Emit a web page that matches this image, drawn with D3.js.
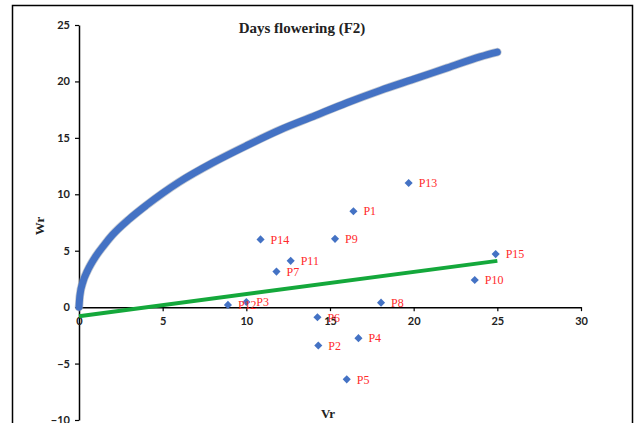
<!DOCTYPE html>
<html>
<head>
<meta charset="utf-8">
<script src="https://cdn.jsdelivr.net/npm/d3@7"></script>
<style>
  body { margin: 0; background: #fff; }
  svg { display: block; }
</style>
</head>
<body>
<div id="chart"></div>
<script>
// parents: Vr / Wr values
const names = ['P1', 'P2', 'P3', 'P4', 'P5', 'P6', 'P7', 'P8', 'P9', 'P10', 'P11', 'P12', 'P13', 'P14', 'P15'];
const vr = [16.4, 14.3, 10.0, 16.7, 16.0, 14.25, 11.8, 18.05, 15.3, 23.65, 12.65, 8.9, 19.7, 10.85, 24.9];
const wr = [8.5, -3.4, 0.45, -2.75, -6.4, -0.9, 3.15, 0.4, 6.05, 2.4, 4.1, 0.2, 11.0, 6.0, 4.7];

// limiting parabola
const curveVr = [0, 0.05, 0.25, 0.5, 1, 1.5, 2, 3, 4, 5, 6, 8, 10, 12, 14, 16, 18, 20, 22, 24, 25];
const curveWr = [0, 1.0, 2.3, 3.2, 4.5, 5.5, 6.4, 7.8, 9.0, 10.1, 11.1, 12.8, 14.3, 15.7, 16.9, 18.1, 19.2, 20.2, 21.2, 22.2, 22.6];

// regression line
const regVr = [0, 25];
const regWr = [-0.8, 4.1];

const xTicks = [0, 5, 10, 15, 20, 25, 30];
const yTicks = [-10, -5, 0, 5, 10, 15, 20, 25];

const width = 638, height = 423;
const svg = d3.select('#chart').append('svg')
  .attr('width', width)
  .attr('height', height);

// outer frame
svg.append('rect')
  .attr('x', 12.5).attr('y', 5.5)
  .attr('width', 620).attr('height', 430)
  .attr('fill', 'none').attr('stroke', '#000').attr('stroke-width', 1.5);

const x = d3.scaleLinear().domain([0, 30]).range([79, 581]);
const y = d3.scaleLinear().domain([-10, 25]).range([420, 25]);

const tickFont = 'Lato, "Open Sans", sans-serif';
const serif = '"Liberation Serif", "DejaVu Serif", serif';

// y axis
const gy = svg.append('g')
  .attr('transform', `translate(${x(0)},0)`)
  .call(d3.axisLeft(y).tickValues(yTicks).tickSize(4).tickSizeOuter(0).tickFormat(d3.format('d')));
gy.select('.domain').attr('stroke', '#000').attr('stroke-width', 1.5);
gy.selectAll('.tick line').attr('stroke', '#000').attr('stroke-width', 1.2);
gy.selectAll('.tick text')
  .attr('x', -9)
  .style('font-family', tickFont).style('font-size', '11px').style('font-weight', 'bold').attr('fill', '#222');

// x axis at y = 0
const gx = svg.append('g')
  .attr('transform', `translate(0,${y(0)})`)
  .call(d3.axisBottom(x).tickValues(xTicks).tickSize(4).tickSizeOuter(0).tickFormat(d3.format('d')));
gx.select('.domain').attr('stroke', '#000').attr('stroke-width', 1.5);
gx.selectAll('.tick line').attr('stroke', '#000').attr('stroke-width', 1.2);
gx.selectAll('.tick text')
  .attr('y', 10)
  .style('font-family', tickFont).style('font-size', '11px').style('font-weight', 'bold').attr('fill', '#222');

// parabola
const curve = curveVr.map((v, i) => [v, curveWr[i]]);
const line = d3.line().x(d => x(d[0])).y(d => y(d[1])).curve(d3.curveMonotoneX);
svg.append('path')
  .datum(curve)
  .attr('d', line)
  .attr('fill', 'none')
  .attr('stroke', '#9aa3b3')
  .attr('stroke-width', 8.5)
  .attr('stroke-linecap', 'round')
  .attr('opacity', 0.6);
svg.append('path')
  .datum(curve)
  .attr('d', line)
  .attr('fill', 'none')
  .attr('stroke', '#4472c4')
  .attr('stroke-width', 7)
  .attr('stroke-linecap', 'round');

// regression line
svg.append('path')
  .datum(regVr.map((v, i) => [v, regWr[i]]))
  .attr('d', d3.line().x(d => x(d[0])).y(d => y(d[1])))
  .attr('stroke', '#14a83b')
  .attr('stroke-width', 4)
  .attr('fill', 'none');

// points
const pts = names.map((n, i) => ({name: n, vr: vr[i], wr: wr[i]}));
const diamond = d3.symbol().type(d3.symbolDiamond2).size(42);
svg.append('g').selectAll('path')
  .data(pts)
  .join('path')
  .attr('d', diamond)
  .attr('transform', d => `translate(${x(d.vr)},${y(d.wr)})`)
  .attr('fill', '#4472c4');

svg.append('g').selectAll('text')
  .data(pts)
  .join('text')
  .attr('x', d => x(d.vr) + 10)
  .attr('y', d => y(d.wr))
  .attr('dy', '0.35em')
  .style('font-family', serif)
  .style('font-size', '12px')
  .attr('fill', '#ff2a2a')
  .text(d => d.name);

// title and axis titles
svg.append('text')
  .attr('x', 302).attr('y', 33)
  .attr('text-anchor', 'middle')
  .style('font-family', serif)
  .style('font-size', '15px').style('font-weight', 'bold')
  .attr('fill', '#222')
  .text('Days flowering (F2)');

svg.append('text')
  .attr('x', 328).attr('y', 418)
  .attr('text-anchor', 'middle')
  .style('font-family', serif)
  .style('font-size', '13px').style('font-weight', 'bold')
  .attr('fill', '#222')
  .text('Vr');

svg.append('text')
  .attr('transform', 'translate(44,226) rotate(-90)')
  .attr('text-anchor', 'middle')
  .style('font-family', serif)
  .style('font-size', '13px').style('font-weight', 'bold')
  .attr('fill', '#222')
  .text('Wr');
</script>
</body>
</html>
